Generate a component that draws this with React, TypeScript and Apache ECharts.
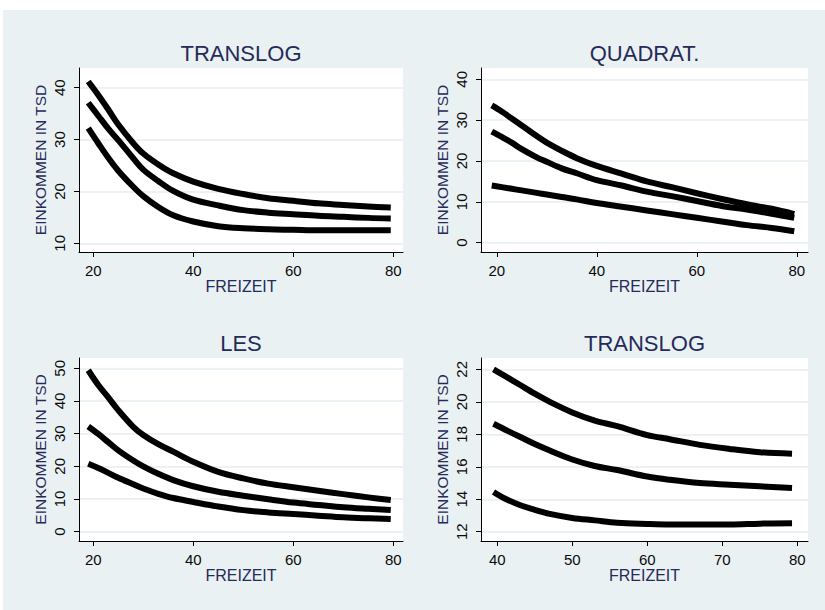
import { useEffect, useRef } from "react";
import * as echarts from "echarts";

// Freizeit (leisure hours) grid used by the first three panels
const FREIZEIT = [19, 21, 23, 25, 28, 30, 33, 36, 40, 45, 50, 55, 60, 65, 70, 75, 79.5];

// TRANSLOG
const translogHigh = [41.2, 38.6, 35.8, 32.9, 29.3, 27.3, 25.2, 23.5, 21.9, 20.5, 19.5, 18.7, 18.2, 17.7, 17.4, 17.1, 16.9];
const translogMid = [37.1, 34.6, 32.1, 29.9, 26.4, 24.2, 22.0, 20.1, 18.4, 17.3, 16.4, 15.9, 15.6, 15.3, 15.1, 14.9, 14.8];
const translogLow = [32.2, 29.3, 26.5, 24.0, 20.9, 19.1, 17.0, 15.4, 14.2, 13.3, 12.9, 12.7, 12.6, 12.5, 12.5, 12.5, 12.5];

// QUADRAT.
const quadratHigh = [33.6, 32.1, 30.4, 28.7, 26.1, 24.5, 22.5, 20.7, 18.8, 16.9, 15.0, 13.6, 12.1, 10.7, 9.4, 8.3, 7.0];
const quadratMid = [27.2, 25.9, 24.5, 22.9, 20.9, 19.8, 18.2, 17.0, 15.3, 14.0, 12.5, 11.4, 10.2, 9.0, 8.1, 7.1, 6.1];
const quadratLow = [14.0, 13.6, 13.2, 12.8, 12.2, 11.8, 11.2, 10.6, 9.7, 8.8, 7.9, 7.0, 6.1, 5.2, 4.3, 3.6, 2.8];

// LES
const lesHigh = [49.4, 44.9, 41.1, 37.2, 32.1, 29.6, 26.8, 24.5, 21.4, 18.3, 16.3, 14.7, 13.6, 12.5, 11.5, 10.5, 9.7];
const lesMid = [32.2, 29.9, 27.4, 24.9, 21.8, 20.0, 17.7, 15.8, 13.9, 12.2, 11.0, 9.9, 8.9, 8.2, 7.5, 7.0, 6.6];
const lesLow = [20.8, 19.5, 18.0, 16.5, 14.5, 13.2, 11.6, 10.3, 9.1, 7.7, 6.6, 5.9, 5.4, 4.9, 4.4, 4.1, 3.9];

// TRANSLOG, detail from 40 hours on
const FREIZEIT_AB_40 = [39.5, 41, 43, 45, 47, 50, 53, 56, 60, 63, 67, 71, 75, 79.3];
const translogDetailHigh = [22.0, 21.6, 21.05, 20.5, 20.0, 19.35, 18.85, 18.5, 17.95, 17.7, 17.35, 17.1, 16.9, 16.8];
const translogDetailMid = [18.65, 18.3, 17.85, 17.4, 17.0, 16.45, 16.05, 15.8, 15.4, 15.2, 15.0, 14.9, 14.8, 14.7];
const translogDetailLow = [14.45, 14.05, 13.65, 13.35, 13.1, 12.85, 12.7, 12.55, 12.48, 12.45, 12.45, 12.45, 12.5, 12.52];

// Tick labels
const X_TICKS = [20, 40, 60, 80];
const X_TICKS_AB_40 = [40, 50, 60, 70, 80];
const Y_TICKS_TRANSLOG = [10, 20, 30, 40];
const Y_TICKS_QUADRAT = [0, 10, 20, 30, 40];
const Y_TICKS_LES = [0, 10, 20, 30, 40, 50];
const Y_TICKS_DETAIL = [12, 14, 16, 18, 20, 22];

const TITLES = ["TRANSLOG", "QUADRAT.", "LES", "TRANSLOG"];
const X_NAME = "FREIZEIT";
const Y_NAME = "EINKOMMEN IN TSD";

const FONT = 'Arial, "Liberation Sans", Helvetica, sans-serif';
const TITLE_COLOR = "#262a58";
const TEXT_COLOR = "#0a0a0a";

const panels = [
  {
    title: TITLES[0], left: 79, top: 68, width: 324, height: 184,
    xMin: 17.15, xMax: 81.95, yMin: 8.32, yMax: 43.8,
    xTicks: X_TICKS, yTicks: Y_TICKS_TRANSLOG,
    x: FREIZEIT, lines: [translogHigh, translogMid, translogLow],
  },
  {
    title: TITLES[1], left: 481, top: 68, width: 327, height: 184,
    xMin: 16.85, xMax: 82.25, yMin: -2.28, yMax: 42.77,
    xTicks: X_TICKS, yTicks: Y_TICKS_QUADRAT,
    x: FREIZEIT, lines: [quadratHigh, quadratMid, quadratLow],
  },
  {
    title: TITLES[2], left: 79, top: 358, width: 324, height: 183,
    xMin: 17.15, xMax: 81.95, yMin: -2.85, yMax: 53.15,
    xTicks: X_TICKS, yTicks: Y_TICKS_LES,
    x: FREIZEIT, lines: [lesHigh, lesMid, lesLow],
  },
  {
    title: TITLES[3], left: 481, top: 358, width: 327, height: 183,
    xMin: 37.83, xMax: 81.43, yMin: 11.43, yMax: 22.7,
    xTicks: X_TICKS_AB_40, yTicks: Y_TICKS_DETAIL,
    x: FREIZEIT_AB_40, lines: [translogDetailHigh, translogDetailMid, translogDetailLow],
  },
];

export default function App() {
  const ref = useRef<HTMLDivElement | null>(null);

  useEffect(() => {
    if (!ref.current) return;
    const chart = echarts.init(ref.current, undefined, { renderer: "svg" });

    const titleTexts = panels.map((p) => ({
      type: "text",
      x: p.left + p.width / 2,
      y: p.top - 15,
      silent: true,
      style: {
        text: p.title,
        fill: TITLE_COLOR,
        font: `22px ${FONT}`,
        align: "center",
        verticalAlign: "middle",
      },
    }));

    const option = {
      animation: false,
      backgroundColor: "#ffffff",
      graphic: [
        {
          type: "rect",
          z: -10,
          silent: true,
          shape: { x: 3, y: 10, width: 822, height: 600 },
          style: { fill: "#e9f1f3" },
        },
        ...titleTexts,
      ],
      grid: panels.map((p) => ({
        left: p.left,
        top: p.top,
        width: p.width,
        height: p.height,
        show: true,
        backgroundColor: "#ffffff",
        borderWidth: 0,
      })),
      xAxis: panels.map((p, i) => ({
        type: "value",
        gridIndex: i,
        min: p.xMin,
        max: p.xMax,
        axisLine: { show: true, onZero: false, lineStyle: { color: "#000", width: 1 } },
        axisTick: { show: true, length: 5, customValues: p.xTicks, lineStyle: { color: "#000", width: 1 } },
        axisLabel: {
          customValues: p.xTicks,
          margin: 11,
          fontSize: 15,
          color: TEXT_COLOR,
          fontFamily: FONT,
        },
        splitLine: { show: false },
        name: X_NAME,
        nameLocation: "middle",
        nameGap: 22,
        nameTextStyle: { fontSize: 16, color: TITLE_COLOR, fontFamily: FONT },
      })),
      yAxis: panels.map((p, i) => ({
        type: "value",
        gridIndex: i,
        min: p.yMin,
        max: p.yMax,
        axisLine: { show: true, onZero: false, lineStyle: { color: "#000", width: 1 } },
        axisTick: { show: true, length: 5, customValues: p.yTicks, lineStyle: { color: "#000", width: 1 } },
        axisLabel: {
          customValues: p.yTicks,
          rotate: 90,
          margin: 12,
          fontSize: 15,
          color: TEXT_COLOR,
          fontFamily: FONT,
        },
        splitLine: { show: true, lineStyle: { color: "#e4edf0", width: 1.5 } },
        name: Y_NAME,
        nameLocation: "middle",
        nameGap: 31,
        nameTextStyle: { fontSize: 15.5, color: TITLE_COLOR, fontFamily: FONT },
      })),
      series: panels.flatMap((p, i) =>
        p.lines.map((vals) => ({
          type: "line",
          xAxisIndex: i,
          yAxisIndex: i,
          data: p.x.map((xv, k) => [xv, vals[k]]),
          showSymbol: false,
          smooth: 0.35,
          silent: true,
          lineStyle: { color: "#000000", width: 6, cap: "butt", join: "round" },
        }))
      ),
    };

    chart.setOption(option as any);
    return () => chart.dispose();
  }, []);

  return (
    <div
      ref={ref}
      style={{ position: "fixed", left: 0, top: 0, width: 825, height: 610 }}
    />
  );
}
